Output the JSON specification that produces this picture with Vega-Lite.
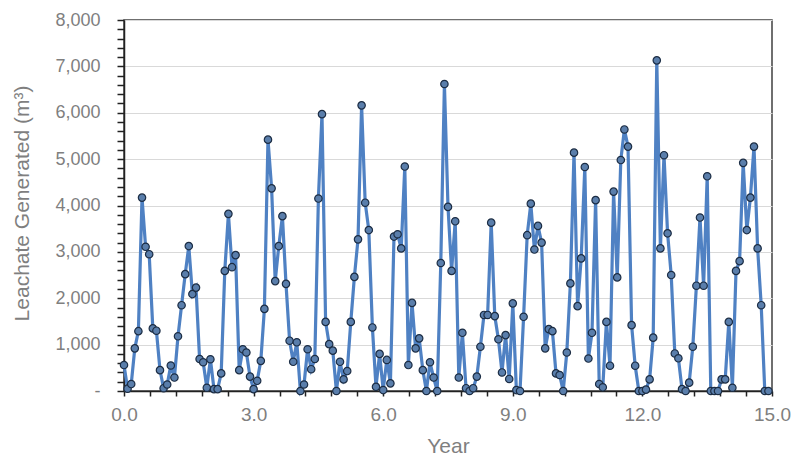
{
  "$schema": "https://vega.github.io/schema/vega-lite/v6.json",
  "width": 648,
  "height": 371,
  "autosize": "none",
  "padding": {"left": 124, "top": 20, "right": 23, "bottom": 66},
  "background": "white",
  "config": {
    "font": "Liberation Sans",
    "view": {"stroke": "#404040", "strokeWidth": 1.5}
  },
  "data": {"values": [
    {"year":0,"v":560},{"year":0.083,"v":50},{"year":0.167,"v":150},{"year":0.25,"v":920},{"year":0.333,"v":1290},{"year":0.417,"v":4170},{"year":0.5,"v":3110},{"year":0.583,"v":2950},{"year":0.667,"v":1350},{"year":0.75,"v":1300},{"year":0.833,"v":450},{"year":0.917,"v":60},
    {"year":1,"v":140},{"year":1.083,"v":550},{"year":1.167,"v":290},{"year":1.25,"v":1180},{"year":1.333,"v":1850},{"year":1.417,"v":2520},{"year":1.5,"v":3125},{"year":1.583,"v":2090},{"year":1.667,"v":2230},{"year":1.75,"v":690},{"year":1.833,"v":620},{"year":1.917,"v":70},
    {"year":2,"v":685},{"year":2.083,"v":40},{"year":2.167,"v":40},{"year":2.25,"v":380},{"year":2.333,"v":2590},{"year":2.417,"v":3820},{"year":2.5,"v":2670},{"year":2.583,"v":2930},{"year":2.667,"v":450},{"year":2.75,"v":900},{"year":2.833,"v":830},{"year":2.917,"v":310},
    {"year":3,"v":40},{"year":3.083,"v":220},{"year":3.167,"v":650},{"year":3.25,"v":1770},{"year":3.333,"v":5420},{"year":3.417,"v":4370},{"year":3.5,"v":2370},{"year":3.583,"v":3125},{"year":3.667,"v":3770},{"year":3.75,"v":2310},{"year":3.833,"v":1085},{"year":3.917,"v":630},
    {"year":4,"v":1050},{"year":4.083,"v":0},{"year":4.167,"v":140},{"year":4.25,"v":900},{"year":4.333,"v":470},{"year":4.417,"v":690},{"year":4.5,"v":4150},{"year":4.583,"v":5970},{"year":4.667,"v":1490},{"year":4.75,"v":1010},{"year":4.833,"v":870},{"year":4.917,"v":0},
    {"year":5,"v":630},{"year":5.083,"v":250},{"year":5.167,"v":430},{"year":5.25,"v":1490},{"year":5.333,"v":2460},{"year":5.417,"v":3270},{"year":5.5,"v":6160},{"year":5.583,"v":4060},{"year":5.667,"v":3470},{"year":5.75,"v":1370},{"year":5.833,"v":90},{"year":5.917,"v":800},
    {"year":6,"v":20},{"year":6.083,"v":670},{"year":6.167,"v":165},{"year":6.25,"v":3330},{"year":6.333,"v":3380},{"year":6.417,"v":3075},{"year":6.5,"v":4840},{"year":6.583,"v":560},{"year":6.667,"v":1900},{"year":6.75,"v":920},{"year":6.833,"v":1135},{"year":6.917,"v":450},
    {"year":7,"v":0},{"year":7.083,"v":620},{"year":7.167,"v":290},{"year":7.25,"v":0},{"year":7.333,"v":2760},{"year":7.417,"v":6620},{"year":7.5,"v":3970},{"year":7.583,"v":2590},{"year":7.667,"v":3660},{"year":7.75,"v":290},{"year":7.833,"v":1255},{"year":7.917,"v":60},
    {"year":8,"v":0},{"year":8.083,"v":60},{"year":8.167,"v":310},{"year":8.25,"v":955},{"year":8.333,"v":1640},{"year":8.417,"v":1640},{"year":8.5,"v":3630},{"year":8.583,"v":1615},{"year":8.667,"v":1115},{"year":8.75,"v":400},{"year":8.833,"v":1205},{"year":8.917,"v":260},
    {"year":9,"v":1890},{"year":9.083,"v":20},{"year":9.167,"v":0},{"year":9.25,"v":1600},{"year":9.333,"v":3360},{"year":9.417,"v":4040},{"year":9.5,"v":3050},{"year":9.583,"v":3560},{"year":9.667,"v":3200},{"year":9.75,"v":920},{"year":9.833,"v":1335},{"year":9.917,"v":1290},
    {"year":10,"v":380},{"year":10.083,"v":345},{"year":10.167,"v":0},{"year":10.25,"v":830},{"year":10.333,"v":2320},{"year":10.417,"v":5140},{"year":10.5,"v":1830},{"year":10.583,"v":2860},{"year":10.667,"v":4830},{"year":10.75,"v":700},{"year":10.833,"v":1255},{"year":10.917,"v":4115},
    {"year":11,"v":150},{"year":11.083,"v":80},{"year":11.167,"v":1490},{"year":11.25,"v":545},{"year":11.333,"v":4300},{"year":11.417,"v":2450},{"year":11.5,"v":4980},{"year":11.583,"v":5640},{"year":11.667,"v":5270},{"year":11.75,"v":1420},{"year":11.833,"v":545},{"year":11.917,"v":0},
    {"year":12,"v":0},{"year":12.083,"v":30},{"year":12.167,"v":250},{"year":12.25,"v":1150},{"year":12.333,"v":7130},{"year":12.417,"v":3075},{"year":12.5,"v":5085},{"year":12.583,"v":3400},{"year":12.667,"v":2500},{"year":12.75,"v":810},{"year":12.833,"v":705},{"year":12.917,"v":40},
    {"year":13,"v":0},{"year":13.083,"v":180},{"year":13.167,"v":955},{"year":13.25,"v":2270},{"year":13.333,"v":3740},{"year":13.417,"v":2270},{"year":13.5,"v":4630},{"year":13.583,"v":0},{"year":13.667,"v":0},{"year":13.75,"v":0},{"year":13.833,"v":250},{"year":13.917,"v":250},
    {"year":14,"v":1490},{"year":14.083,"v":70},{"year":14.167,"v":2590},{"year":14.25,"v":2800},{"year":14.333,"v":4920},{"year":14.417,"v":3470},{"year":14.5,"v":4170},{"year":14.583,"v":5270},{"year":14.667,"v":3075},{"year":14.75,"v":1850},{"year":14.833,"v":0},{"year":14.917,"v":0}
  ]},
  "encoding": {
    "x": {
      "field": "year", "type": "quantitative",
      "scale": {"domain": [0, 15], "nice": false, "zero": false},
      "axis": {
        "title": "Year",
        "values": [0,0.6,1.2,1.8,2.4,3,3.6,4.2,4.8,5.4,6,6.6,7.2,7.8,8.4,9,9.6,10.2,10.8,11.4,12,12.6,13.2,13.8,14.4,15],
        "labelExpr": "abs(datum.value/3 - round(datum.value/3)) < 0.001 ? format(datum.value, '.1f') : ''",
        "grid": false,
        "labelOverlap": false,
        "labelFlush": false,
        "labelFontSize": 19,
        "labelColor": "#7f7f7f",
        "labelPadding": 9,
        "tickSize": 5,
        "tickColor": "#222222",
        "tickWidth": 1.5,
        "domainColor": "#222222",
        "domainWidth": 1.5,
        "titleFontSize": 21,
        "titleFontWeight": "normal",
        "titleColor": "#7f7f7f",
        "titleBaseline": "alphabetic",
        "titleY": 61
      }
    },
    "y": {
      "field": "v", "type": "quantitative",
      "scale": {"domain": [0, 8000], "nice": false},
      "axis": {
        "title": "Leachate Generated (m³)",
        "values": [0,200,400,600,800,1000,1200,1400,1600,1800,2000,2200,2400,2600,2800,3000,3200,3400,3600,3800,4000,4200,4400,4600,4800,5000,5200,5400,5600,5800,6000,6200,6400,6600,6800,7000,7200,7400,7600,7800,8000],
        "labelExpr": "datum.value % 1000 === 0 ? (datum.value === 0 ? '-' : format(datum.value, ',')) : ''",
        "gridOpacity": {"condition": {"test": "datum.value % 1000 === 0", "value": 1}, "value": 0},
        "gridColor": "#d9d9d9",
        "gridWidth": 1.2,
        "labelOverlap": false,
        "labelFlush": false,
        "labelFontSize": 18,
        "labelColor": "#7f7f7f",
        "labelPadding": 17,
        "tickSize": 7,
        "tickColor": "#222222",
        "tickWidth": 1.5,
        "domainColor": "#222222",
        "domainWidth": 1.5,
        "titleFontSize": 21,
        "titleFontWeight": "normal",
        "titleColor": "#7f7f7f",
        "titleX": -92,
        "titleY": 183
      }
    }
  },
  "layer": [
    {"mark": {"type": "line", "color": "#4f81c3", "strokeWidth": 3.2}},
    {"mark": {"type": "point", "filled": true, "fill": "#5a7eab", "stroke": "#1c2d44", "strokeWidth": 1.2, "size": 55, "opacity": 1}}
  ]
}
